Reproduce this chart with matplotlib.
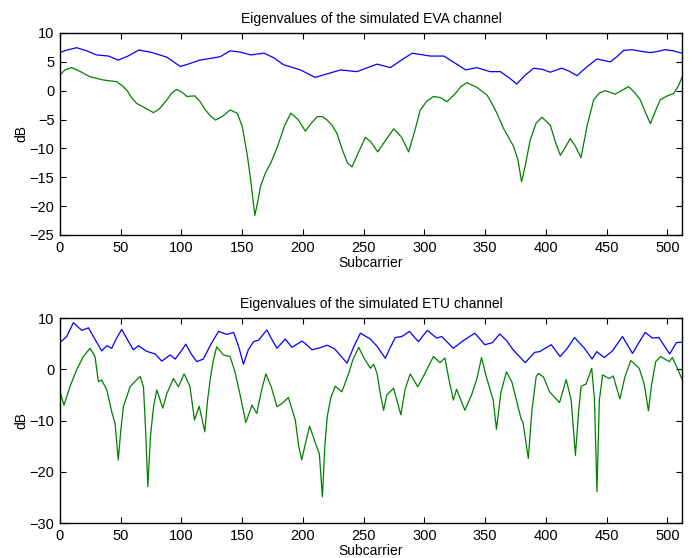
import matplotlib
matplotlib.use('Agg')
import matplotlib.pyplot as plt

# EVA channel, eigenvalues in dB
eva_x1 = [0, 5, 13.7, 22, 30, 40, 48, 56, 65, 76, 88, 99, 107, 115, 124, 132, 140, 148, 157, 168,
          176, 184, 198, 210, 218, 231, 244.5, 252, 261, 272, 281, 290, 305, 316, 325, 334, 343,
          354, 362.5, 370, 376, 383, 390, 397, 403.6, 413, 419, 425.6, 433, 442, 453, 459, 464,
          471, 479, 486, 492, 498, 505, 512]
eva_y1 = [6.6, 7.0, 7.45, 6.9, 6.2, 6.0, 5.3, 6.0, 7.05, 6.6, 5.8, 4.2, 4.7, 5.3, 5.6, 5.9, 6.9, 6.7,
          6.2, 6.5, 5.7, 4.5, 3.6, 2.3, 2.8, 3.6, 3.3, 3.9, 4.6, 4.0, 5.3, 6.5, 6.0, 6.0, 4.8, 3.6,
          4.0, 3.3, 3.3, 2.2, 1.15, 2.7, 3.9, 3.7, 3.2, 3.9, 3.4, 2.6, 4.0, 5.5, 5.0, 6.0, 7.0,
          7.1, 6.8, 6.6, 6.8, 7.1, 6.9, 6.5]
eva_x2 = [0, 4, 9.6, 16, 24.8, 35.8, 46.8, 51, 55, 59, 63, 70, 77, 82, 88, 92, 96, 100, 104.5, 111,
          115, 119.7, 124, 128, 134, 140, 146, 150, 154, 157, 160.4, 163, 165, 169, 174, 179, 185,
          190, 196, 202, 207, 211.8, 216, 220, 224, 228, 232, 236.6, 240.4, 245, 251.4, 256,
          261.5, 268, 274.7, 281, 287, 292, 296.6, 302, 307.6, 313, 318.6, 325.4, 330, 335, 343,
          351.5, 355, 359.7, 365, 369, 373.5, 377, 380, 383, 387, 392, 396.8, 403.6, 408, 411.9,
          416, 420, 424, 428.9, 434, 439.3, 444, 449, 457, 462, 468, 473, 477.7, 482, 486, 490,
          494, 500, 505, 509, 512]
eva_y2 = [2.7, 3.6, 4.0, 3.4, 2.4, 1.85, 1.56, 0.9, 0.1, -1.2, -2.2, -3.0, -3.8, -3.1, -1.6, -0.4,
          0.2, -0.2, -1.0, -0.9, -1.8, -3.35, -4.4, -5.1, -4.4, -3.35, -3.9, -6.2, -10.9, -15.5,
          -21.6, -19.0, -16.6, -14.3, -12.3, -9.7, -6.0, -3.9, -5.0, -7.0, -5.6, -4.5, -4.5, -5.1,
          -6.0, -7.4, -10.0, -12.5, -13.2, -11.0, -8.1, -8.9, -10.6, -8.6, -6.6, -8.0, -10.6,
          -7.0, -3.35, -1.8, -1.0, -1.2, -1.9, -0.5, 0.7, 1.4, 0.6, -0.75, -2.0, -3.9, -6.5, -8.0,
          -9.7, -12.0, -15.8, -13.0, -8.6, -5.6, -4.6, -6.0, -9.0, -11.2, -9.8, -8.3, -9.5, -11.6,
          -6.0, -1.6, -0.4, 0.0, -0.6, 0.0, 0.7, -0.3, -1.6, -3.8, -5.7, -3.6, -1.6, -0.9, -0.5,
          0.8, 2.3]

# ETU channel, eigenvalues in dB
etu_x1 = [0, 5.5, 11, 17.9, 23.4, 28, 34.3, 38.5, 42.6, 46, 50.8, 55, 60.4, 64.6, 71.4, 78.3, 83.8,
          90.7, 94.8, 99, 103.6, 108, 112.6, 118, 124, 130.5, 137.4, 142.9, 147, 151, 155, 159.3,
          163.5, 170.3, 174, 178.6, 185.4, 190.9, 199.2, 203, 207.4, 214, 219.8, 226, 236.3, 242,
          247.3, 255.5, 261, 267.8, 272, 276, 281.4, 287.7, 295, 302.4, 310, 314.2, 323.8, 332,
          341.5, 349.7, 356, 362, 368, 373, 383, 390.7, 394.8, 404.4, 411.7, 417, 423.5, 431.7,
          438, 441.8, 448, 454.8, 463, 471.3, 476, 481.7, 487.7, 493, 501.9, 507.4, 512]
etu_y1 = [5.2, 6.4, 9.1, 7.6, 8.1, 6.2, 3.6, 4.6, 4.1, 5.8, 7.8, 6.0, 3.8, 4.6, 3.5, 3.0, 1.6, 2.8,
          2.0, 3.3, 4.9, 3.0, 1.5, 2.0, 4.8, 7.4, 6.8, 7.2, 4.5, 1.0, 3.8, 5.4, 5.7, 7.7, 6.0, 4.1,
          5.9, 4.3, 5.5, 4.8, 3.8, 4.2, 4.7, 4.0, 1.2, 4.5, 7.05, 5.9, 4.5, 2.15, 4.3, 6.2, 6.4,
          7.4, 5.4, 7.6, 6.1, 6.4, 4.1, 5.6, 7.05, 4.8, 5.2, 6.9, 5.5, 3.8, 1.3, 3.3, 3.45, 4.8,
          2.5, 3.9, 6.2, 4.1, 2.0, 3.45, 2.3, 3.6, 6.4, 3.1, 5.0, 7.2, 6.1, 6.2, 3.0, 5.2, 5.3]
etu_x2 = [0, 3.3, 8, 13.7, 19.2, 24.7, 28.8, 31.6, 34.3, 38.5, 42.6, 45.3, 48, 50, 52.2, 57.7, 62,
          66, 68.7, 70.5, 72.3, 74.5, 77, 79.7, 84.6, 88, 93.4, 97.5, 102.2, 107, 110.7, 114.6,
          119.2, 121.5, 123.6, 126, 129, 134.6, 140, 144, 148, 153, 158, 162, 166, 169.5, 174,
          178.6, 183, 188, 193.7, 196.5, 199, 202, 205.5, 210, 213.5, 216, 218, 220, 223, 226.6,
          232, 237.7, 241, 245.9, 250, 255.5, 258.2, 261, 263.5, 266.4, 269, 274.6, 280.6, 284,
          288.3, 294.5, 300, 307.4, 312.8, 316.9, 320, 323.8, 326.5, 333.3, 338.8, 343, 347, 351,
          356.6, 359.3, 363, 367.5, 372, 375.7, 379.8, 381, 385.5, 388.5, 392, 394, 398, 403,
          411.2, 416.7, 420.8, 424.3, 427, 429, 433, 437.7, 440, 442, 444, 446.7, 452.1, 455.4,
          460.9, 465, 469.9, 476.8, 481, 484.4, 487, 490.4, 494.5, 501.4, 504.1, 508.2, 512]
etu_y2 = [-4.4, -7.0, -3.5, -0.1, 2.5, 4.1, 2.5, -2.4, -2.1, -4.0, -8.3, -10.5, -17.7, -12.0, -7.3,
          -3.4, -2.3, -1.4, -3.4, -12.0, -22.9, -13.0, -7.3, -4.0, -7.6, -4.7, -1.8, -3.4, -0.9,
          -3.4, -9.9, -7.2, -12.2, -6.0, -2.1, 1.5, 4.4, 2.8, 2.5, -0.5, -4.7, -10.4, -7.0, -8.6,
          -4.0, -0.9, -3.5, -7.3, -6.6, -5.5, -9.9, -15.0, -17.7, -14.5, -11.1, -14.2, -16.5,
          -24.9, -15.0, -9.2, -5.5, -3.3, -4.4, -0.8, 1.8, 4.3, 2.3, 0.2, 1.0, -0.8, -4.5, -8.0,
          -5.0, -3.7, -8.9, -4.0, -0.9, -3.4, -1.0, 2.5, 1.3, 2.2, -1.8, -6.0, -3.9, -8.0, -5.0,
          -2.0, 2.3, -1.5, -6.0, -11.7, -4.5, -0.5, -2.5, -6.0, -9.9, -10.2, -17.4, -8.0, -1.4,
          -0.8, -1.5, -4.4, -6.5, -2.0, -6.0, -16.8, -8.0, -3.3, -2.9, 0.2, -6.0, -23.9, -6.0,
          -1.1, -1.8, -1.3, -5.8, -1.5, 1.7, 0.2, -3.0, -8.1, -3.0, 1.5, 2.5, 1.5, 2.3, 0.2, -1.9]

plt.rcParams['font.family'] = ['Liberation Sans', 'DejaVu Sans']
plt.rcParams['axes.linewidth'] = 1.0
plt.rcParams['xtick.direction'] = 'in'
plt.rcParams['ytick.direction'] = 'in'

fig = plt.figure(figsize=(6.92, 5.58), dpi=100)

ax1 = fig.add_axes([0.0867, 0.5789, 0.8988, 0.362])
ax1.plot(eva_x1, eva_y1, color='#0000ff', lw=0.9)
ax1.plot(eva_x2, eva_y2, color='#008000', lw=0.9)
ax1.set_xlim(0, 512)
ax1.set_ylim(-25, 10)
ax1.set_xticks(range(0, 501, 50))
ax1.set_yticks(range(-25, 11, 5))
ax1.set_title('Eigenvalues of the simulated EVA channel', fontsize=10, pad=7)
ax1.set_xlabel('Subcarrier', fontsize=10, labelpad=1)
ax1.set_ylabel('dB', fontsize=10, labelpad=1)

ax2 = fig.add_axes([0.0867, 0.0627, 0.8988, 0.3673])
ax2.plot(etu_x1, etu_y1, color='#0000ff', lw=0.9)
ax2.plot(etu_x2, etu_y2, color='#008000', lw=0.9)
ax2.set_xlim(0, 512)
ax2.set_ylim(-30, 10)
ax2.set_xticks(range(0, 501, 50))
ax2.set_yticks(range(-30, 11, 10))
ax2.set_title('Eigenvalues of the simulated ETU channel', fontsize=10, pad=7)
ax2.set_xlabel('Subcarrier', fontsize=10, labelpad=1)
ax2.set_ylabel('dB', fontsize=10, labelpad=1)

for ax in (ax1, ax2):
    ax.tick_params(top=True, right=True, length=4, width=0.8, labelsize=10.5, pad=4)

fig.savefig('out.png', dpi=100)
